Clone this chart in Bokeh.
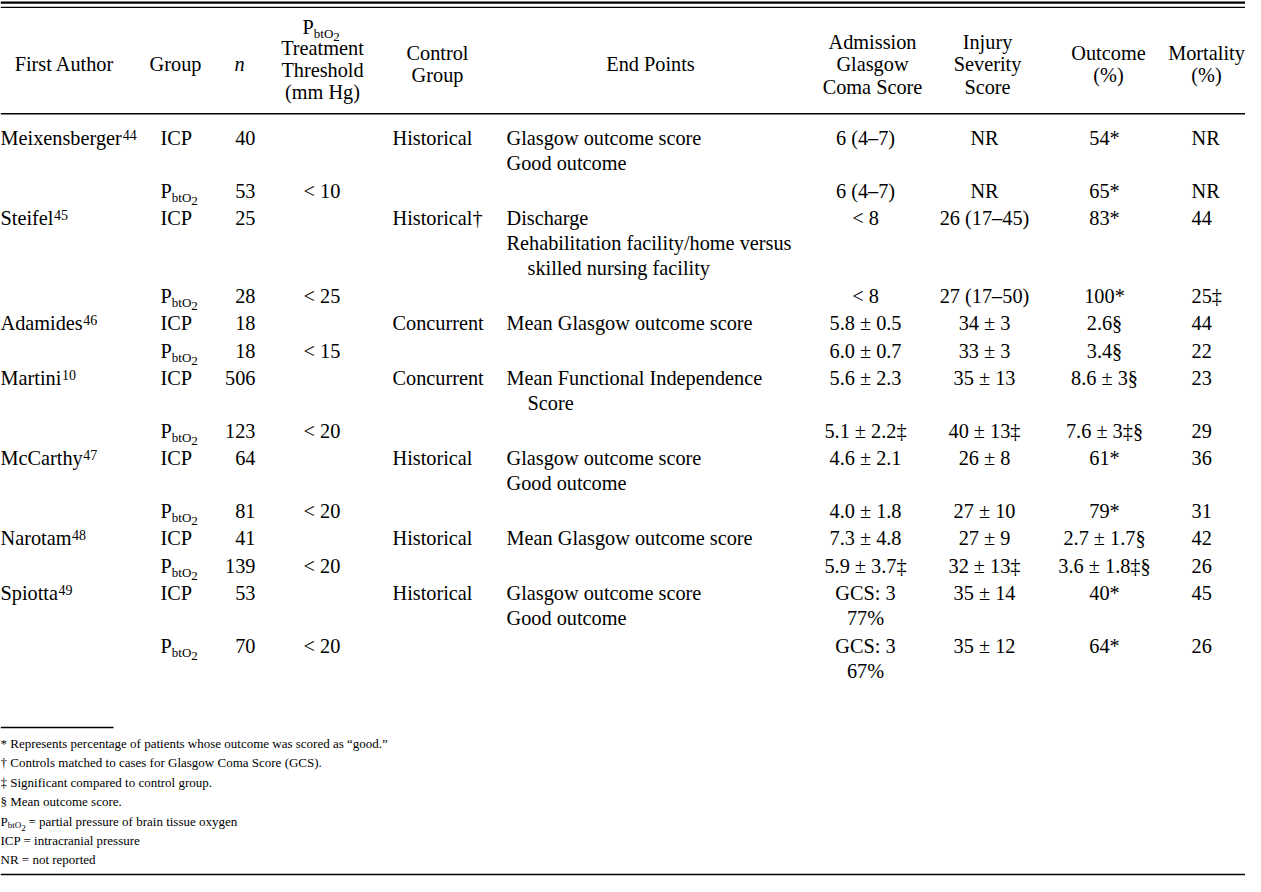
from bokeh.plotting import figure
from bokeh.models import Range1d, ColumnDataSource
from bokeh.core.properties import value
from bokeh.embed import file_html
from bokeh.resources import INLINE

# ---------------- data ----------------
col_headers = [["First Author"], ["Group"], ["n"],
               ["PbtO2", "Treatment", "Threshold", "(mm Hg)"],
               ["Control", "Group"], ["End Points"],
               ["Admission", "Glasgow", "Coma Score"],
               ["Injury", "Severity", "Score"],
               ["Outcome", "(%)"], ["Mortality", "(%)"]]

authors = ["Meixensberger", "", "Steifel", "", "Adamides", "", "Martini", "",
           "McCarthy", "", "Narotam", "", "Spiotta", ""]
author_refs = ["44", "", "45", "", "46", "", "10", "", "47", "", "48", "", "49", ""]
groups = ["ICP", "PbtO2"] * 7
n_patients = [40, 53, 25, 28, 18, 18, 506, 123, 64, 81, 41, 139, 53, 70]
thresholds = ["", "< 10", "", "< 25", "", "< 15", "", "< 20", "", "< 20", "", "< 20", "", "< 20"]
control_groups = ["Historical", "", "Historical†", "", "Concurrent", "", "Concurrent", "",
                  "Historical", "", "Historical", "", "Historical", ""]
# lines starting with two spaces are wrapped continuations (indented)
end_points = [["Glasgow outcome score", "Good outcome"], [],
              ["Discharge", "Rehabilitation facility/home versus", "  skilled nursing facility"], [],
              ["Mean Glasgow outcome score"], [],
              ["Mean Functional Independence", "  Score"], [],
              ["Glasgow outcome score", "Good outcome"], [],
              ["Mean Glasgow outcome score"], [],
              ["Glasgow outcome score", "Good outcome"], []]
admission_gcs = [["6 (4–7)"], ["6 (4–7)"], ["< 8"], ["< 8"], ["5.8 ± 0.5"], ["6.0 ± 0.7"],
                 ["5.6 ± 2.3"], ["5.1 ± 2.2‡"], ["4.6 ± 2.1"], ["4.0 ± 1.8"],
                 ["7.3 ± 4.8"], ["5.9 ± 3.7‡"], ["GCS: 3", "77%"], ["GCS: 3", "67%"]]
injury_severity = ["NR", "NR", "26 (17–45)", "27 (17–50)", "34 ± 3", "33 ± 3", "35 ± 13",
                   "40 ± 13‡", "26 ± 8", "27 ± 10", "27 ± 9", "32 ± 13‡", "35 ± 14", "35 ± 12"]
outcome_pct = ["54*", "65*", "83*", "100*", "2.6§", "3.4§", "8.6 ± 3§", "7.6 ± 3‡§",
               "61*", "79*", "2.7 ± 1.7§", "3.6 ± 1.8‡§", "40*", "64*"]
mortality_pct = ["NR", "NR", "44", "25‡", "44", "22", "23", "29", "36", "31", "42", "26", "45", "26"]

footnotes = ["* Represents percentage of patients whose outcome was scored as “good.”",
             "† Controls matched to cases for Glasgow Coma Score (GCS).",
             "‡ Significant compared to control group.",
             "§ Mean outcome score.",
             "PbtO2 = partial pressure of brain tissue oxygen",
             "ICP = intracranial pressure",
             "NR = not reported"]

# ---------------- layout (1 data unit = 1 screen px) ----------------
W, H = 1245, 876
FONT = value("Liberation Serif")
INK = "#000000"
MAIN = 20.3
FOOT = 13
SUP = 14

# Times / Liberation Serif advance widths (1/1000 em) used to place superscripts
ADV = dict(M=889, e=444, i=278, x=500, n=500, s=389, b=500, r=333, g=500, S=556, t=278,
           f=333, l=278, A=722, d=500, a=444, m=778, c=444, C=667, y=500, h=500, N=722,
           o=500, p=500)

p = figure(width=W, height=H, x_range=Range1d(0, W), y_range=Range1d(H, 0),
           x_axis_location=None, y_axis_location=None, toolbar_location=None,
           output_backend="svg", min_border=0, outline_line_color=None,
           background_fill_color="white", border_fill_color="white")
p.xgrid.visible = False
p.ygrid.visible = False

items = {}


def put(x, yc, t, align="left", size=MAIN, style="normal", shift=0.0):
    key = (align, size, style)
    d = items.setdefault(key, dict(x=[], y=[], text=[]))
    d["x"].append(x)
    d["y"].append(yc + shift)
    d["text"].append(t)


def pbto2(x, yc, size, sub):
    put(x, yc, "P", "left", size)
    x2 = x + 0.556 * size
    put(x2, yc, "btO", "left", sub, shift=0.33 * size)
    x3 = x2 + 1.5 * sub
    put(x3, yc, "2", "left", sub, shift=0.52 * size)


# header
head_x = [64, 175, 239, 322, 437, 650, 872, 987, 1108, 1206]
HEAD_MID, HEAD_LINE = 63.5, 22.5
for cx, lines in zip(head_x, col_headers):
    nl = len(lines)
    if lines[0] == "PbtO2":
        ys = [26 + k * 21.7 for k in range(nl)]
    else:
        ys = [HEAD_MID + (k - (nl - 1) / 2) * HEAD_LINE for k in range(nl)]
    for t, yy in zip(lines, ys):
        if t == "PbtO2":
            pbto2(cx - 20, yy, MAIN, 13)
        elif t == "n":
            put(cx, yy, t, "center", MAIN, "italic")
        else:
            put(cx, yy, t, "center")

# body
FIRST_Y, LINE, GAP = 137.5, 25.0, 27.5
X_AUTH, X_GRP, X_N, X_THR, X_CTRL, X_END, X_IND = 0, 160, 255, 303, 392, 506, 527
X_GCS, X_ISS, X_OUT, X_MORT = 865, 984, 1104, 1191
y = FIRST_Y
for i in range(len(authors)):
    if authors[i]:
        put(X_AUTH, y, authors[i])
        w = sum(ADV.get(ch, 500) for ch in authors[i]) * MAIN / 1000
        put(X_AUTH + w + 0.5, y, author_refs[i], "left", SUP, shift=-3.5)
    if groups[i] == "PbtO2":
        pbto2(X_GRP, y, MAIN, 13)
    else:
        put(X_GRP, y, groups[i])
    put(X_N, y, str(n_patients[i]), "right")
    if thresholds[i]:
        put(X_THR, y, thresholds[i])
    if control_groups[i]:
        put(X_CTRL, y, control_groups[i])
    for k, t in enumerate(end_points[i]):
        if t.startswith("  "):
            put(X_IND, y + k * LINE, t.strip())
        else:
            put(X_END, y + k * LINE, t)
    for k, t in enumerate(admission_gcs[i]):
        put(X_GCS, y + k * LINE, t, "center")
    put(X_ISS, y, injury_severity[i], "center")
    put(X_OUT, y, outcome_pct[i], "center")
    put(X_MORT, y, mortality_pct[i])
    nl = max(1, len(end_points[i]), len(admission_gcs[i]))
    y += (nl - 1) * LINE + GAP

# footnotes
FN_RULE_Y = 727
FN_Y, FN_LINE = 743, 19.4
for k, t in enumerate(footnotes):
    yy = FN_Y + k * FN_LINE
    if t.startswith("PbtO2"):
        pbto2(0, yy, FOOT, 9)
        put(28, yy, t[len("PbtO2"):].strip(), "left", FOOT)
    else:
        put(0, yy, t, "left", FOOT)

for (align, size, style), d in items.items():
    p.text(x="x", y="y", text="text", source=ColumnDataSource(d), text_align=align,
           text_baseline="middle", text_font=FONT, text_font_size=f"{size}px",
           text_font_style=style, text_color=INK)

# rules
p.segment(x0=[0], y0=[2.2], x1=[W], y1=[2.2], line_width=2.2, line_color=INK)
p.segment(x0=[0], y0=[6.9], x1=[W], y1=[6.9], line_width=1.1, line_color=INK)
p.segment(x0=[0], y0=[113.3], x1=[W], y1=[113.3], line_width=1.5, line_color=INK)
p.segment(x0=[0], y0=[FN_RULE_Y], x1=[113], y1=[FN_RULE_Y], line_width=1.3, line_color=INK)
p.segment(x0=[0], y0=[874], x1=[W], y1=[874], line_width=1.6, line_color=INK)

open("out.html", "w").write(file_html(p, INLINE))
